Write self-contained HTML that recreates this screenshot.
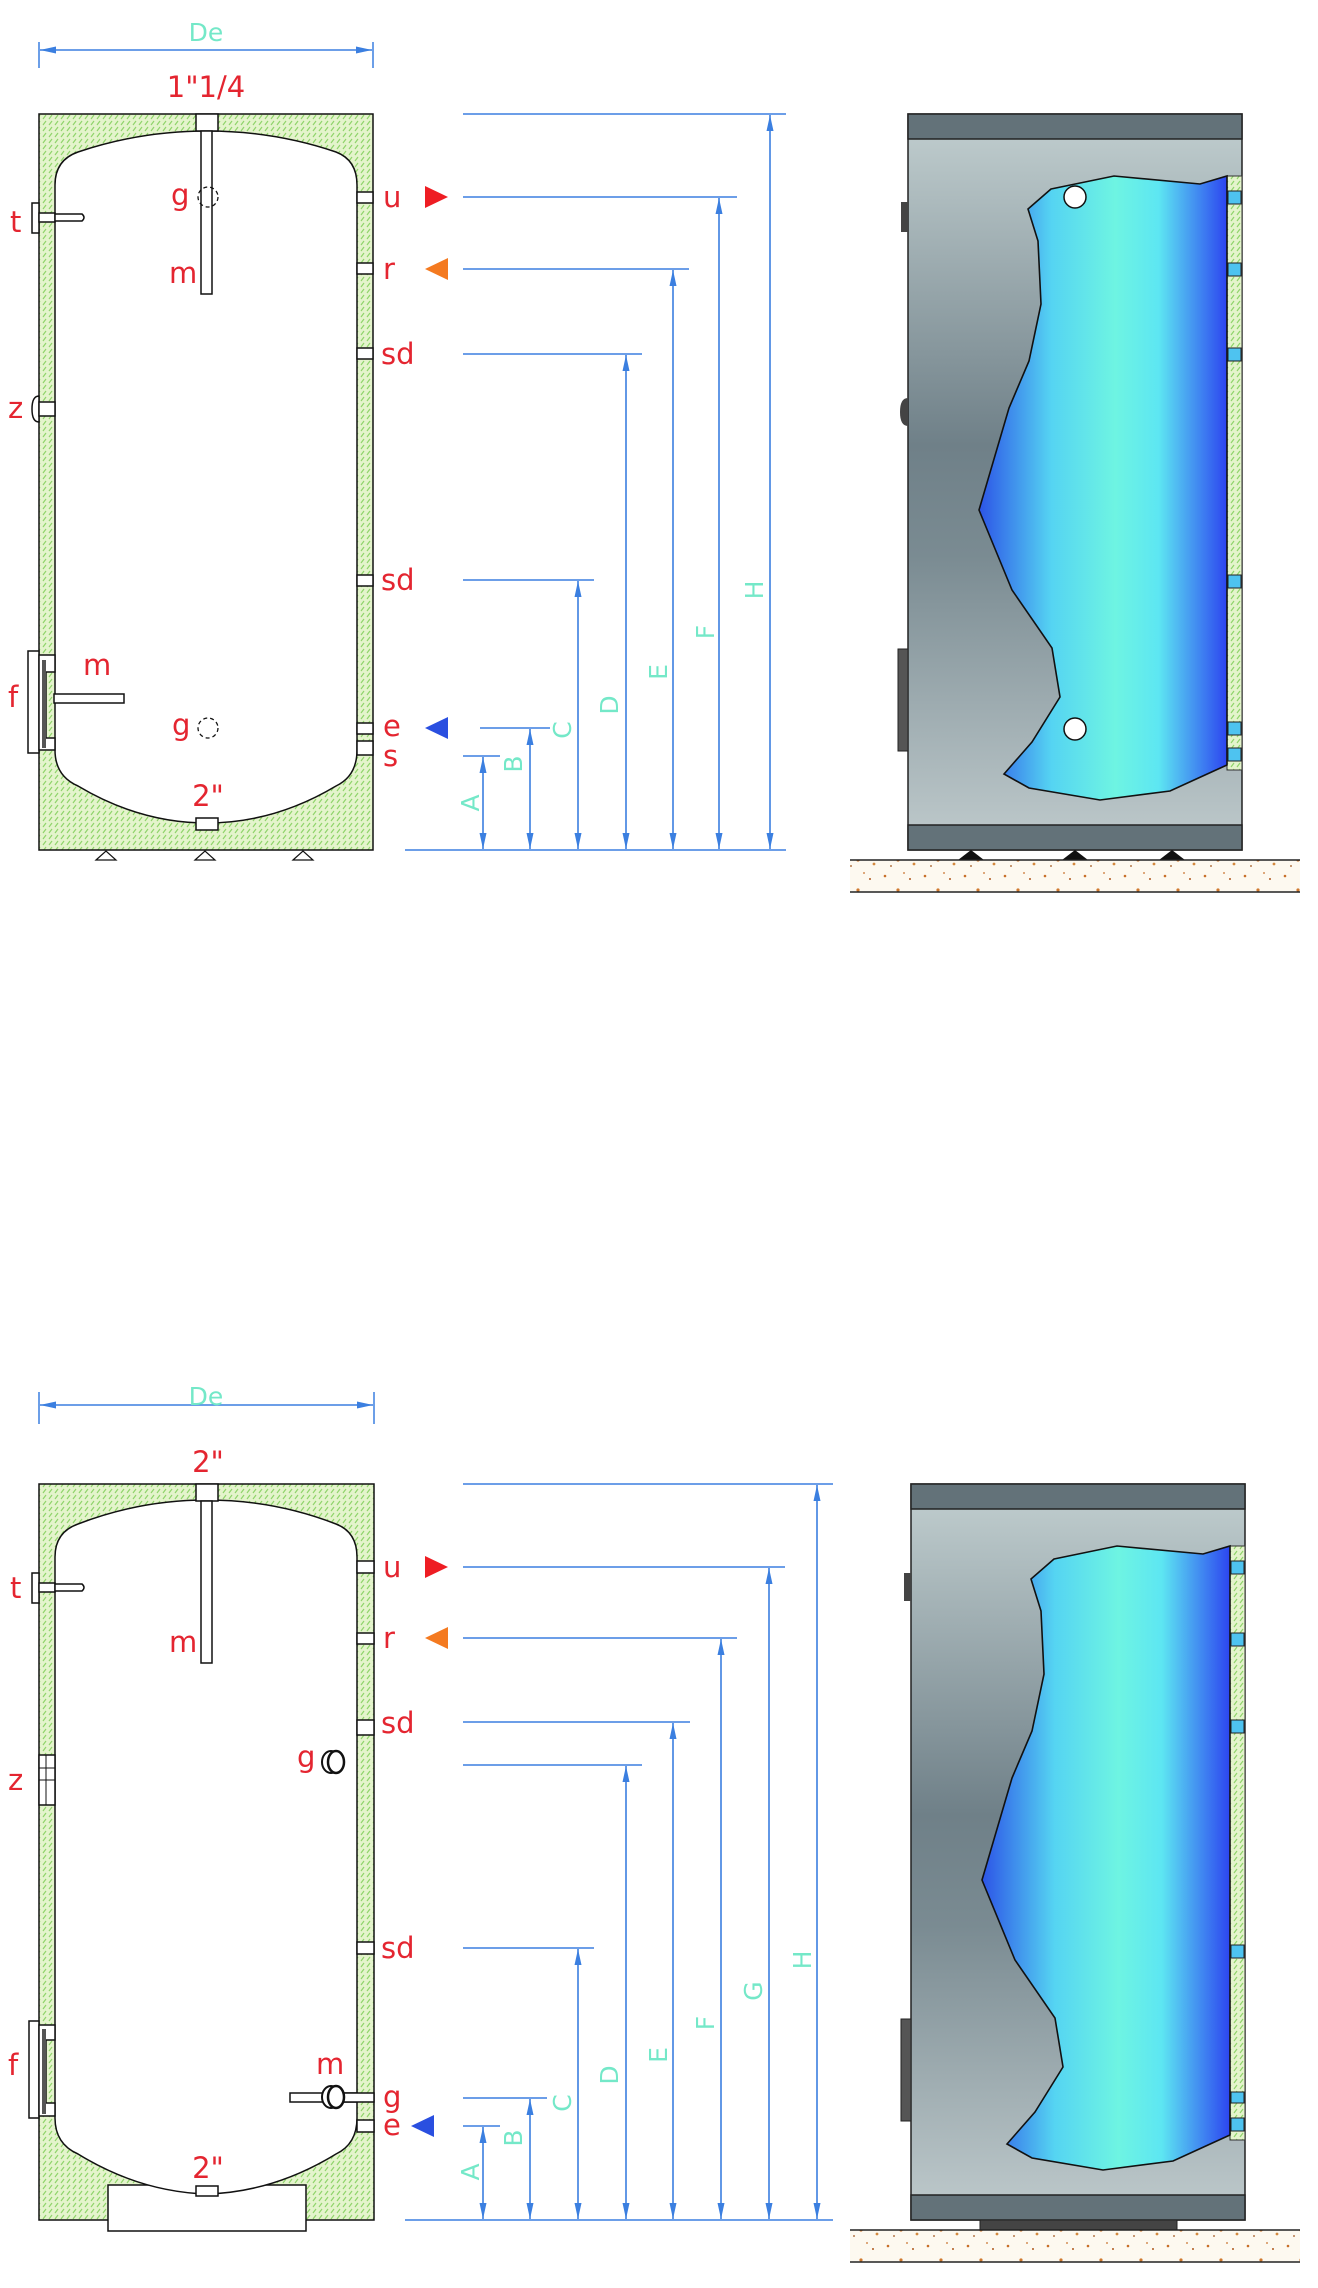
<!DOCTYPE html>
<html><head><meta charset="utf-8"><style>
html,body{margin:0;padding:0;background:#fff}
svg{display:block}
.r{fill:#e42530;font-family:"DejaVu Sans","Liberation Sans",sans-serif;font-size:29px}
.t{fill:#74e8c8;font-family:"DejaVu Sans","Liberation Sans",sans-serif;font-size:25px}
.dl{stroke:#3b7fe0;stroke-width:1.6;fill:none}
.dv{stroke:#3b7fe0;stroke-width:1.6;fill:none;marker-start:url(#ah);marker-end:url(#ah)}
.k{stroke:#111;stroke-width:1.5;fill:#fff}
</style></head><body>
<svg width="1318" height="2288" viewBox="0 0 1318 2288" xmlns="http://www.w3.org/2000/svg">
<defs>
<marker id="ah" viewBox="0 0 16 8" refX="16" refY="4" markerWidth="16" markerHeight="8" orient="auto-start-reverse" markerUnits="userSpaceOnUse"><path d="M0,0.5 L16,4 L0,7.5 Z" fill="#3b7fe0"/></marker>
<pattern id="hat" width="6" height="6" patternUnits="userSpaceOnUse"><rect width="6" height="6" fill="#e4f4cc"/><path d="M1,5 L4,1" stroke="#8fd46a" stroke-width="1.2"/></pattern>
<linearGradient id="body" x1="0" y1="0" x2="0" y2="1"><stop offset="0" stop-color="#c2cfd0"/><stop offset="0.45" stop-color="#6f8088"/><stop offset="0.6" stop-color="#7a8b92"/><stop offset="1" stop-color="#c0cbcd"/></linearGradient>
<linearGradient id="blue" x1="975" y1="0" x2="1230" y2="0" gradientUnits="userSpaceOnUse"><stop offset="0" stop-color="#2a4de6"/><stop offset="0.3" stop-color="#55d4f2"/><stop offset="0.55" stop-color="#6ef4e2"/><stop offset="0.72" stop-color="#5de6f2"/><stop offset="1" stop-color="#2a3ef0"/></linearGradient>
<pattern id="sand" width="40" height="30" patternUnits="userSpaceOnUse"><rect width="40" height="30" fill="#fdf9f0"/><circle cx="5" cy="6" r="1.3" fill="#c8702a"/><circle cx="18" cy="20" r="1.6" fill="#d07a30"/><circle cx="30" cy="9" r="1" fill="#b05a20"/><circle cx="34" cy="24" r="1.4" fill="#d48a40"/><circle cx="11" cy="26" r="0.9" fill="#a0521a"/><circle cx="24" cy="3" r="0.9" fill="#c8702a"/></pattern>
</defs>

<!-- ================= TOP LEFT ================= -->
<line x1="39" y1="42" x2="39" y2="68" stroke="#3b7fe0" stroke-width="1.5"/>
<line x1="373" y1="42" x2="373" y2="68" stroke="#3b7fe0" stroke-width="1.5"/>
<line x1="40" y1="50" x2="372" y2="50" stroke="#3b7fe0" stroke-width="1.5" marker-start="url(#ah)" marker-end="url(#ah)"/>
<text class="t" x="206" y="41" text-anchor="middle">De</text>
<text class="r" x="206" y="97" text-anchor="middle">1"1/4</text>
<rect x="39" y="114" width="334" height="736" fill="url(#hat)" stroke="#111" stroke-width="1.5"/>
<path class="k" d="M55,750 L55,185 Q55,160 78,152 Q140,131 207,131 Q274,131 336,152 Q357,160 357,185 L357,750 Q357,776 336,786 Q274,823 207,823 Q140,823 78,786 Q55,776 55,750 Z"/>
<rect class="k" x="196" y="114" width="22" height="17"/>
<rect class="k" x="196" y="818" width="22" height="12"/>
<rect class="k" x="201" y="131" width="11" height="163"/>
<circle cx="208" cy="197" r="10" fill="none" stroke="#111" stroke-width="1.3" stroke-dasharray="4,3"/>
<circle cx="208" cy="728" r="10" fill="none" stroke="#111" stroke-width="1.3" stroke-dasharray="4,3"/>
<text class="r" x="171" y="205">g</text>
<text class="r" x="169" y="283">m</text>
<text class="r" x="172" y="735">g</text>
<text class="r" x="208" y="806" text-anchor="middle">2"</text>
<g class="k"><rect x="357" y="192" width="16" height="11"/><rect x="357" y="263" width="16" height="11"/><rect x="357" y="348" width="16" height="11"/><rect x="357" y="575" width="16" height="11"/><rect x="357" y="723" width="16" height="11"/><rect x="357" y="741" width="16" height="14"/></g>
<text class="r" x="383" y="207">u</text>
<text class="r" x="383" y="279">r</text>
<text class="r" x="381" y="364">sd</text>
<text class="r" x="381" y="590">sd</text>
<text class="r" x="383" y="736">e</text>
<text class="r" x="383" y="766">s</text>
<rect class="k" x="32" y="203" width="7" height="30"/>
<rect class="k" x="39" y="213" width="16" height="9"/>
<path class="k" d="M55,214 L82,214 Q86,217.5 82,221 L55,221 Z"/>
<text class="r" x="10" y="232">t</text>
<path class="k" d="M39,396 Q32,396 32,409 Q32,422 39,422 Z"/>
<rect class="k" x="39" y="402" width="16" height="14"/>
<text class="r" x="8" y="418">z</text>
<rect class="k" x="28" y="651" width="11" height="102"/>
<path class="k" d="M39,655 L55,655 L55,672 L46,672 L46,738 L55,738 L55,750 L39,750 Z"/>
<rect x="42" y="660" width="4" height="88" fill="#555"/>
<rect class="k" x="54" y="694" width="70" height="9"/>
<text class="r" x="8" y="707">f</text>
<text class="r" x="83" y="675">m</text>
<g fill="#fff" stroke="#111" stroke-width="1.2"><path d="M96,860 L106,851 L116,860 Z"/><path d="M195,860 L205,851 L215,860 Z"/><path d="M293,860 L303,851 L313,860 Z"/></g>
<path d="M425,186 L448,197 L425,208 Z" fill="#ee1d23"/>
<path d="M448,258 L425,269 L448,280 Z" fill="#f47a20"/>
<path d="M448,717 L425,728 L448,739 Z" fill="#2a4fe0"/>
<g class="dl">
<line x1="463" y1="114" x2="786" y2="114"/>
<line x1="463" y1="197" x2="737" y2="197"/>
<line x1="463" y1="269" x2="689" y2="269"/>
<line x1="463" y1="354" x2="642" y2="354"/>
<line x1="463" y1="580" x2="594" y2="580"/>
<line x1="480" y1="728" x2="550" y2="728"/>
<line x1="463" y1="756" x2="500" y2="756"/>
<line x1="405" y1="850" x2="786" y2="850"/>
</g>
<g class="dv">
<line x1="483" y1="757" x2="483" y2="849"/>
<line x1="530" y1="729" x2="530" y2="849"/>
<line x1="578" y1="581" x2="578" y2="849"/>
<line x1="626" y1="355" x2="626" y2="849"/>
<line x1="673" y1="270" x2="673" y2="849"/>
<line x1="719" y1="198" x2="719" y2="849"/>
<line x1="770" y1="115" x2="770" y2="849"/>
</g>
<g class="t">
<text transform="translate(479,803) rotate(-90)" text-anchor="middle">A</text>
<text transform="translate(522,764) rotate(-90)" text-anchor="middle">B</text>
<text transform="translate(571,730) rotate(-90)" text-anchor="middle">C</text>
<text transform="translate(618,705) rotate(-90)" text-anchor="middle">D</text>
<text transform="translate(667,672) rotate(-90)" text-anchor="middle">E</text>
<text transform="translate(714,632) rotate(-90)" text-anchor="middle">F</text>
<text transform="translate(763,590) rotate(-90)" text-anchor="middle">H</text>
</g>

<!-- ================= TOP RIGHT RENDER ================= -->
<rect x="908" y="114" width="334" height="736" fill="url(#body)" stroke="#222" stroke-width="1.5"/>
<rect x="908" y="114" width="334" height="25" fill="#637279" stroke="#222" stroke-width="1.5"/>
<rect x="908" y="825" width="334" height="25" fill="#637279" stroke="#222" stroke-width="1.5"/>
<rect x="1227" y="176" width="15" height="594" fill="url(#hat)" stroke="#333" stroke-width="1"/>
<path d="M1051,189 L1114,176 L1200,184 L1227,176 L1227,765 L1205,775 L1170,791 L1100,800 L1029,788 L1004,774 L1032,742 L1060,697 L1052,648 L1012,590 L979,510 L1009,408 L1029,361 L1041,304 L1038,241 L1028,209 Z" fill="url(#blue)" stroke="#111" stroke-width="1.6"/>
<g fill="#4ec3f0" stroke="#222" stroke-width="1"><rect x="1228" y="191" width="13" height="13"/><rect x="1228" y="263" width="13" height="13"/><rect x="1228" y="348" width="13" height="13"/><rect x="1228" y="575" width="13" height="13"/><rect x="1228" y="722" width="13" height="13"/><rect x="1228" y="748" width="13" height="13"/></g>
<circle cx="1075" cy="197" r="11" fill="#fff" stroke="#111" stroke-width="1.5"/>
<circle cx="1075" cy="729" r="11" fill="#fff" stroke="#111" stroke-width="1.5"/>
<rect x="901" y="202" width="7" height="30" fill="#444"/>
<path d="M908,398 Q900,398 900,412 Q900,426 908,426 Z" fill="#444"/>
<rect x="898" y="649" width="10" height="102" fill="#555" stroke="#222"/>
<g fill="#111"><path d="M958,860 L971,850 L984,860 Z"/><path d="M1062,860 L1075,850 L1088,860 Z"/><path d="M1159,860 L1172,850 L1185,860 Z"/></g>
<rect x="850" y="860" width="450" height="32" fill="url(#sand)"/>
<line x1="850" y1="860" x2="1300" y2="860" stroke="#222" stroke-width="1.5"/>
<line x1="850" y1="892" x2="1300" y2="892" stroke="#222" stroke-width="1.5"/>

<!-- ================= BOTTOM LEFT ================= -->
<line x1="39" y1="1392" x2="39" y2="1424" stroke="#3b7fe0" stroke-width="1.5"/>
<line x1="374" y1="1392" x2="374" y2="1424" stroke="#3b7fe0" stroke-width="1.5"/>
<line x1="40" y1="1405" x2="373" y2="1405" stroke="#3b7fe0" stroke-width="1.5" marker-start="url(#ah)" marker-end="url(#ah)"/>
<text class="t" x="206" y="1405" text-anchor="middle">De</text>
<text class="r" x="208" y="1472" text-anchor="middle">2"</text>
<rect x="39" y="1484" width="335" height="736" fill="url(#hat)" stroke="#111" stroke-width="1.5"/>
<rect class="k" x="108" y="2185" width="198" height="46"/>
<path class="k" d="M55,2118 L55,1557 Q55,1532 78,1524 Q140,1500 207,1500 Q274,1500 336,1524 Q357,1532 357,1557 L357,2118 Q357,2144 336,2154 Q274,2192 207,2194 Q140,2192 78,2154 Q55,2144 55,2118 Z"/>
<rect class="k" x="196" y="1484" width="22" height="17"/>
<rect class="k" x="196" y="2186" width="22" height="10"/>
<rect class="k" x="201" y="1501" width="11" height="162"/>
<text class="r" x="169" y="1652">m</text>
<text class="r" x="208" y="2178" text-anchor="middle">2"</text>
<g class="k"><rect x="357" y="1561" width="17" height="12"/><rect x="357" y="1633" width="17" height="11"/><rect x="357" y="1720" width="17" height="15"/><rect x="357" y="1942" width="17" height="12"/><rect x="357" y="2120" width="17" height="12"/></g>
<text class="r" x="383" y="1577">u</text>
<text class="r" x="383" y="1648">r</text>
<text class="r" x="381" y="1733">sd</text>
<text class="r" x="381" y="1958">sd</text>
<text class="r" x="297" y="1767">g</text>
<ellipse cx="331" cy="1762" rx="9" ry="11" fill="#fff" stroke="#111" stroke-width="2"/>
<ellipse cx="336" cy="1762" rx="8" ry="11" fill="#fff" stroke="#111" stroke-width="2.5"/>
<text class="r" x="316" y="2074">m</text>
<rect class="k" x="290" y="2093" width="67" height="9"/>
<rect class="k" x="338" y="2093" width="36" height="9"/>
<ellipse cx="331" cy="2097" rx="9" ry="11" fill="#fff" stroke="#111" stroke-width="2"/>
<ellipse cx="336" cy="2097" rx="8" ry="11" fill="#fff" stroke="#111" stroke-width="2.5"/>
<text class="r" x="383" y="2107">g</text>
<text class="r" x="383" y="2135">e</text>
<rect class="k" x="32" y="1573" width="7" height="30"/>
<rect class="k" x="39" y="1583" width="16" height="9"/>
<path class="k" d="M55,1584 L82,1584 Q86,1587.5 82,1591 L55,1591 Z"/>
<text class="r" x="10" y="1598">t</text>
<rect class="k" x="39" y="1755" width="16" height="50"/>
<line x1="39" y1="1768" x2="55" y2="1768" stroke="#111"/><line x1="39" y1="1780" x2="55" y2="1780" stroke="#111"/><line x1="46" y1="1755" x2="46" y2="1805" stroke="#111"/>
<text class="r" x="8" y="1790">z</text>
<rect class="k" x="29" y="2021" width="10" height="97"/>
<path class="k" d="M39,2025 L55,2025 L55,2040 L46,2040 L46,2103 L55,2103 L55,2116 L39,2116 Z"/>
<rect x="42" y="2029" width="4" height="85" fill="#555"/>
<text class="r" x="8" y="2075">f</text>
<path d="M425,1556 L448,1567 L425,1578 Z" fill="#ee1d23"/>
<path d="M448,1627 L425,1638 L448,1649 Z" fill="#f47a20"/>
<path d="M434,2115 L411,2126 L434,2137 Z" fill="#2a4fe0"/>
<g class="dl">
<line x1="463" y1="1484" x2="833" y2="1484"/>
<line x1="463" y1="1567" x2="785" y2="1567"/>
<line x1="463" y1="1638" x2="737" y2="1638"/>
<line x1="463" y1="1722" x2="690" y2="1722"/>
<line x1="463" y1="1765" x2="642" y2="1765"/>
<line x1="463" y1="1948" x2="594" y2="1948"/>
<line x1="463" y1="2098" x2="547" y2="2098"/>
<line x1="463" y1="2126" x2="500" y2="2126"/>
<line x1="405" y1="2220" x2="833" y2="2220"/>
</g>
<g class="dv">
<line x1="483" y1="2127" x2="483" y2="2219"/>
<line x1="530" y1="2099" x2="530" y2="2219"/>
<line x1="578" y1="1949" x2="578" y2="2219"/>
<line x1="626" y1="1766" x2="626" y2="2219"/>
<line x1="673" y1="1723" x2="673" y2="2219"/>
<line x1="721" y1="1639" x2="721" y2="2219"/>
<line x1="769" y1="1568" x2="769" y2="2219"/>
<line x1="817" y1="1485" x2="817" y2="2219"/>
</g>
<g class="t">
<text transform="translate(479,2172) rotate(-90)" text-anchor="middle">A</text>
<text transform="translate(522,2138) rotate(-90)" text-anchor="middle">B</text>
<text transform="translate(571,2103) rotate(-90)" text-anchor="middle">C</text>
<text transform="translate(618,2075) rotate(-90)" text-anchor="middle">D</text>
<text transform="translate(667,2055) rotate(-90)" text-anchor="middle">E</text>
<text transform="translate(714,2023) rotate(-90)" text-anchor="middle">F</text>
<text transform="translate(762,1991) rotate(-90)" text-anchor="middle">G</text>
<text transform="translate(811,1960) rotate(-90)" text-anchor="middle">H</text>
</g>

<!-- ================= BOTTOM RIGHT RENDER ================= -->
<g transform="translate(3,1370)">
<rect x="908" y="114" width="334" height="736" fill="url(#body)" stroke="#222" stroke-width="1.5"/>
<rect x="908" y="114" width="334" height="25" fill="#637279" stroke="#222" stroke-width="1.5"/>
<rect x="908" y="825" width="334" height="25" fill="#637279" stroke="#222" stroke-width="1.5"/>
<rect x="1227" y="176" width="15" height="594" fill="url(#hat)" stroke="#333" stroke-width="1"/>
<path d="M1051,189 L1114,176 L1200,184 L1227,176 L1227,765 L1205,775 L1170,791 L1100,800 L1029,788 L1004,774 L1032,742 L1060,697 L1052,648 L1012,590 L979,510 L1009,408 L1029,361 L1041,304 L1038,241 L1028,209 Z" fill="url(#blue)" stroke="#111" stroke-width="1.6"/>
<g fill="#4ec3f0" stroke="#222" stroke-width="1"><rect x="1228" y="191" width="13" height="13"/><rect x="1228" y="263" width="13" height="13"/><rect x="1228" y="350" width="13" height="13"/><rect x="1228" y="575" width="13" height="13"/><rect x="1228" y="722" width="13" height="11"/><rect x="1228" y="748" width="13" height="13"/></g>
<rect x="901" y="203" width="7" height="28" fill="#444"/>
<rect x="898" y="649" width="10" height="102" fill="#555" stroke="#222"/>
<rect x="977" y="850" width="197" height="10" fill="#444" stroke="#222"/>
<rect x="847" y="860" width="450" height="32" fill="url(#sand)"/>
<line x1="847" y1="860" x2="1297" y2="860" stroke="#222" stroke-width="1.5"/>
<line x1="847" y1="892" x2="1297" y2="892" stroke="#222" stroke-width="1.5"/>
</g>
</svg>
</body></html>
